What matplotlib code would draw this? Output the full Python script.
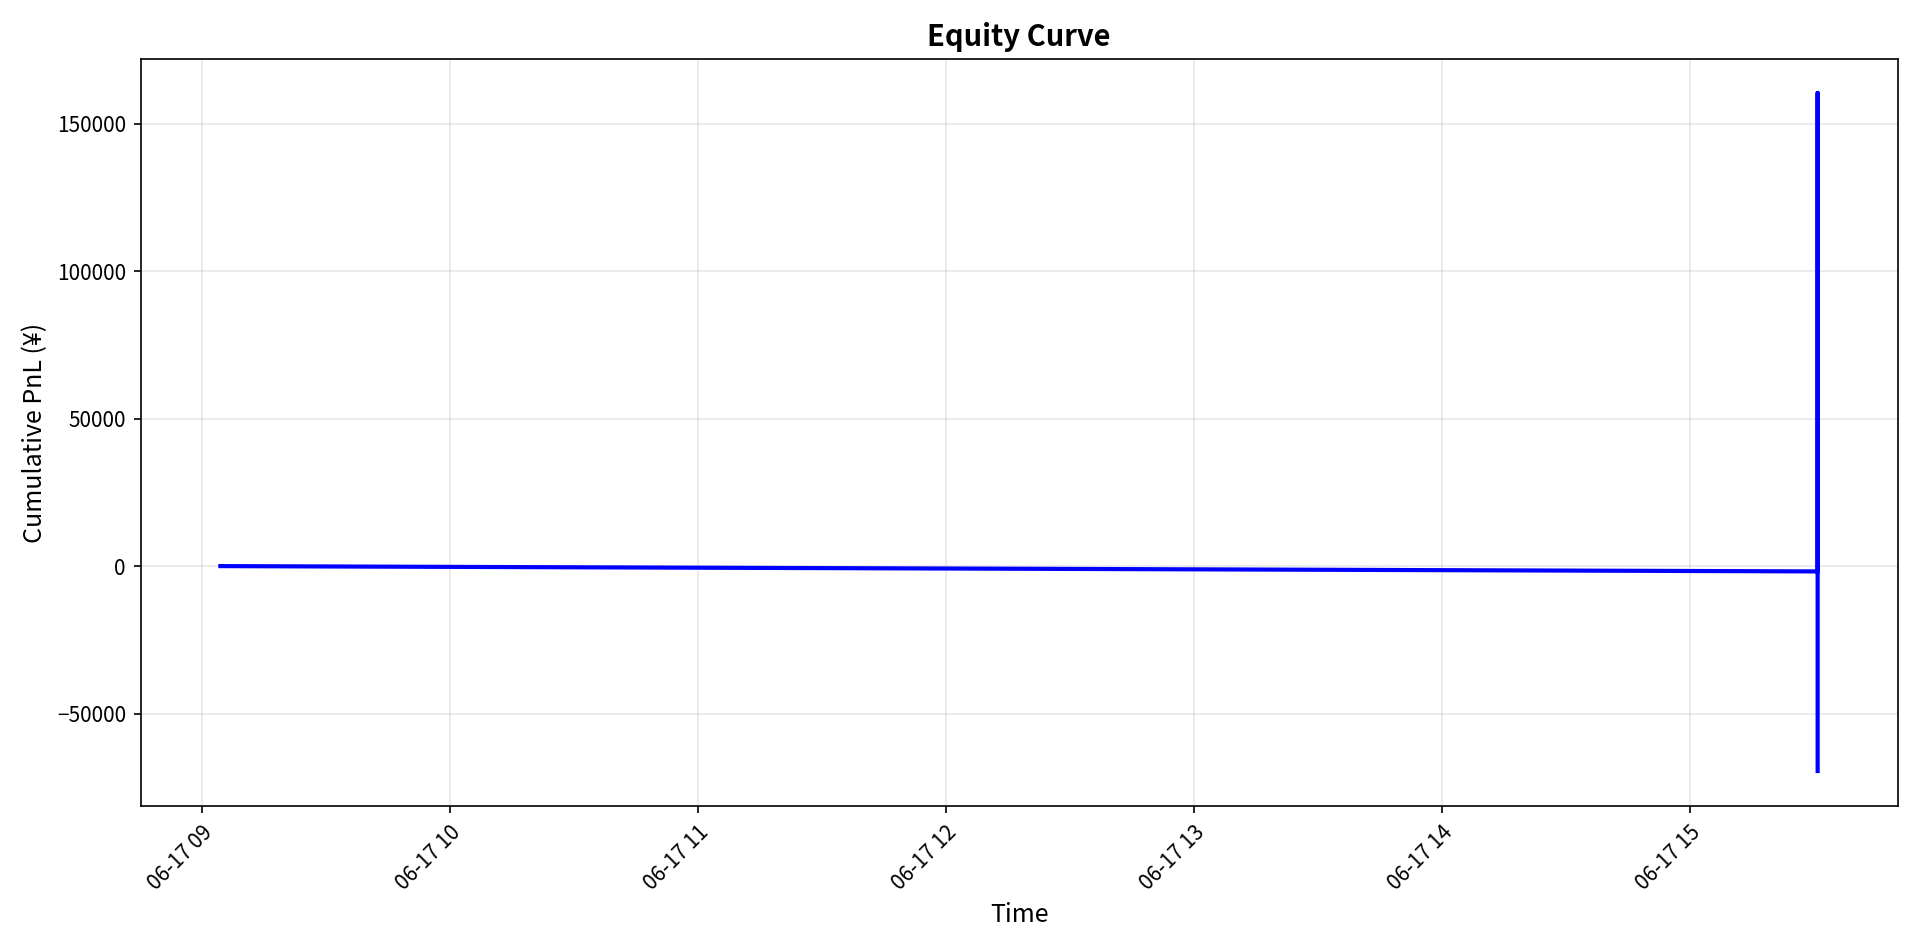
import matplotlib
matplotlib.use("Agg")
import matplotlib.pyplot as plt
import matplotlib.dates as mdates
import pandas as pd

plt.rcParams['font.family'] = ['Noto Sans CJK JP', 'DejaVu Sans']

times = pd.to_datetime(["2024-06-17 09:04:30", "2024-06-17 15:31:00",
                        "2024-06-17 15:31:00", "2024-06-17 15:31:00"])
pnl = [0, -1800, 160500, -69500]

fig, ax = plt.subplots(figsize=(12.8, 6.34), dpi=150)
ax.plot(times, pnl, color='blue', linewidth=2)
ax.set_title("Equity Curve", fontsize=14, fontweight='bold')
ax.set_xlabel("Time", fontsize=12)
ax.set_ylabel("Cumulative PnL (¥)", fontsize=12)
ax.grid(True, alpha=0.3)
ax.xaxis.set_major_locator(mdates.HourLocator())
ax.xaxis.set_major_formatter(mdates.DateFormatter("%m-%d %H"))
plt.setp(ax.get_xticklabels(), rotation=45, ha='right', rotation_mode='anchor')
ax.set_ylim(-81500, 172000)
fig.tight_layout()
fig.savefig("out.png", dpi=150)
